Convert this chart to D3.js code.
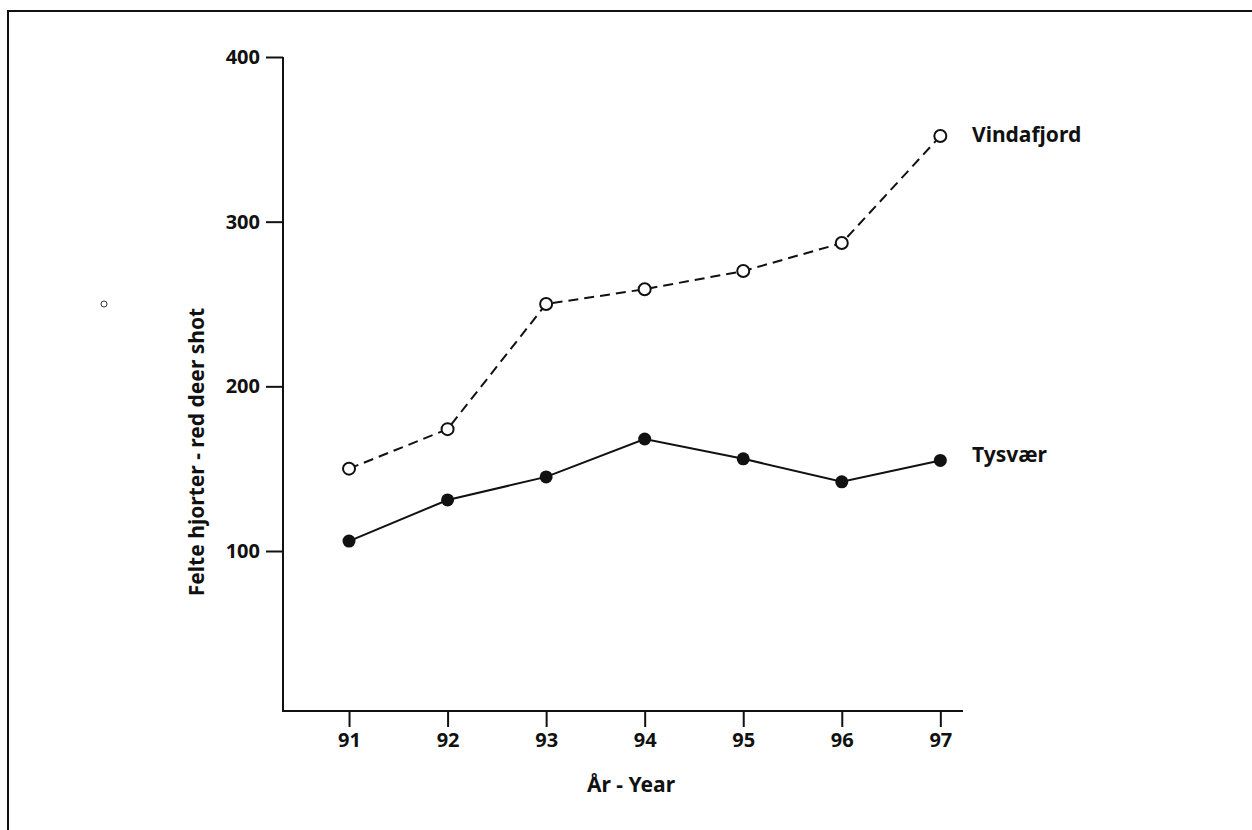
<!DOCTYPE html>
<html lang="en">
<head>
    <meta charset="UTF-8">
    <title>Felte hjorter - red deer shot</title>
    <style>
        body {
            margin: 0;
            padding: 0;
            background: #fff;
            font-family: "Noto Sans", Arial, sans-serif;
        }
        .axis text {
            font-family: "Noto Sans", Arial, sans-serif;
            font-size: 20px;
            font-weight: bold;
            fill: #111;
        }
        .axis path, .axis line {
            stroke: #111;
            stroke-width: 2px;
        }
        .label {
            font-family: "Noto Sans", Arial, sans-serif;
            font-size: 21px;
            font-weight: bold;
            fill: #111;
        }
    </style>
</head>
<body>
    <div id="chart"></div>

    <script src="https://cdnjs.cloudflare.com/ajax/libs/d3/7.8.5/d3.min.js"></script>
    <script>
        // data
        const years = [91, 92, 93, 94, 95, 96, 97];
        const vindafjord = [150, 174, 250, 259, 270, 287, 352];
        const tysvaer = [106, 131, 145, 168, 156, 142, 155];
        const yTicks = [100, 200, 300, 400];

        const width = 1252;
        const height = 830;

        const svg = d3.select('#chart')
            .append('svg')
            .attr('width', width)
            .attr('height', height);

        // frame (only top and left edges show in the scan)
        svg.append('path')
            .attr('d', 'M8,830 L8,11 L1252,11')
            .attr('fill', 'none')
            .attr('stroke', '#111')
            .attr('stroke-width', 2);

        const plotLeft = 283, plotRight = 963, plotBottom = 711;

        const x = d3.scaleLinear()
            .domain([90.33, 97.23])
            .range([plotLeft, plotRight]);

        const y = d3.scaleLinear()
            .domain([100, 400])
            .range([551, 57]);

        // y axis
        const yAxis = svg.append('g')
            .attr('class', 'axis')
            .attr('transform', `translate(${plotLeft},0)`)
            .call(d3.axisLeft(y).tickValues(yTicks).tickFormat(d3.format('d'))
                .tickSize(17).tickPadding(6).tickSizeOuter(0));
        yAxis.select('.domain').remove();
        yAxis.append('line')
            .attr('x1', 0).attr('x2', 0)
            .attr('y1', y(400)).attr('y2', plotBottom + 1);

        // x axis
        const xAxis = svg.append('g')
            .attr('class', 'axis')
            .attr('transform', `translate(0,${plotBottom})`)
            .call(d3.axisBottom(x).tickValues(years).tickFormat(d3.format('d'))
                .tickSize(16).tickPadding(6).tickSizeOuter(0));
        xAxis.select('.domain').remove();
        xAxis.append('line')
            .attr('x1', plotLeft - 1).attr('x2', plotRight)
            .attr('y1', 0).attr('y2', 0);

        // axis titles
        svg.append('text')
            .attr('class', 'label')
            .attr('text-anchor', 'middle')
            .attr('transform', `translate(204,452) rotate(-90)`)
            .text('Felte hjorter - red deer shot');

        svg.append('text')
            .attr('class', 'label')
            .attr('text-anchor', 'middle')
            .attr('x', 631)
            .attr('y', 792)
            .text('År - Year');

        const line = d3.line()
            .x((d, i) => x(years[i]))
            .y(d => y(d));

        // Vindafjord, dashed with open circles
        svg.append('path')
            .datum(vindafjord)
            .attr('d', line)
            .attr('fill', 'none')
            .attr('stroke', '#111')
            .attr('stroke-width', 2)
            .attr('stroke-dasharray', '10,6');

        svg.selectAll('.open')
            .data(vindafjord)
            .enter()
            .append('circle')
            .attr('class', 'open')
            .attr('cx', (d, i) => x(years[i]))
            .attr('cy', d => y(d))
            .attr('r', 6)
            .attr('fill', '#fff')
            .attr('stroke', '#111')
            .attr('stroke-width', 2);

        // Tysvær, solid with filled dots
        svg.append('path')
            .datum(tysvaer)
            .attr('d', line)
            .attr('fill', 'none')
            .attr('stroke', '#111')
            .attr('stroke-width', 2);

        svg.selectAll('.filled')
            .data(tysvaer)
            .enter()
            .append('circle')
            .attr('class', 'filled')
            .attr('cx', (d, i) => x(years[i]))
            .attr('cy', d => y(d))
            .attr('r', 6.5)
            .attr('fill', '#111');

        // series labels at the last point
        const last = years.length - 1;
        svg.append('text')
            .attr('class', 'label')
            .attr('x', 972)
            .attr('y', y(vindafjord[last]) + 6)
            .text('Vindafjord');

        svg.append('text')
            .attr('class', 'label')
            .attr('x', 972)
            .attr('y', y(tysvaer[last]) + 2)
            .text('Tysvær');

        // small stray ring left of the axis title
        svg.append('circle')
            .attr('cx', 104)
            .attr('cy', 304)
            .attr('r', 3)
            .attr('fill', 'none')
            .attr('stroke', '#333')
            .attr('stroke-width', 1);
    </script>
</body>
</html>
